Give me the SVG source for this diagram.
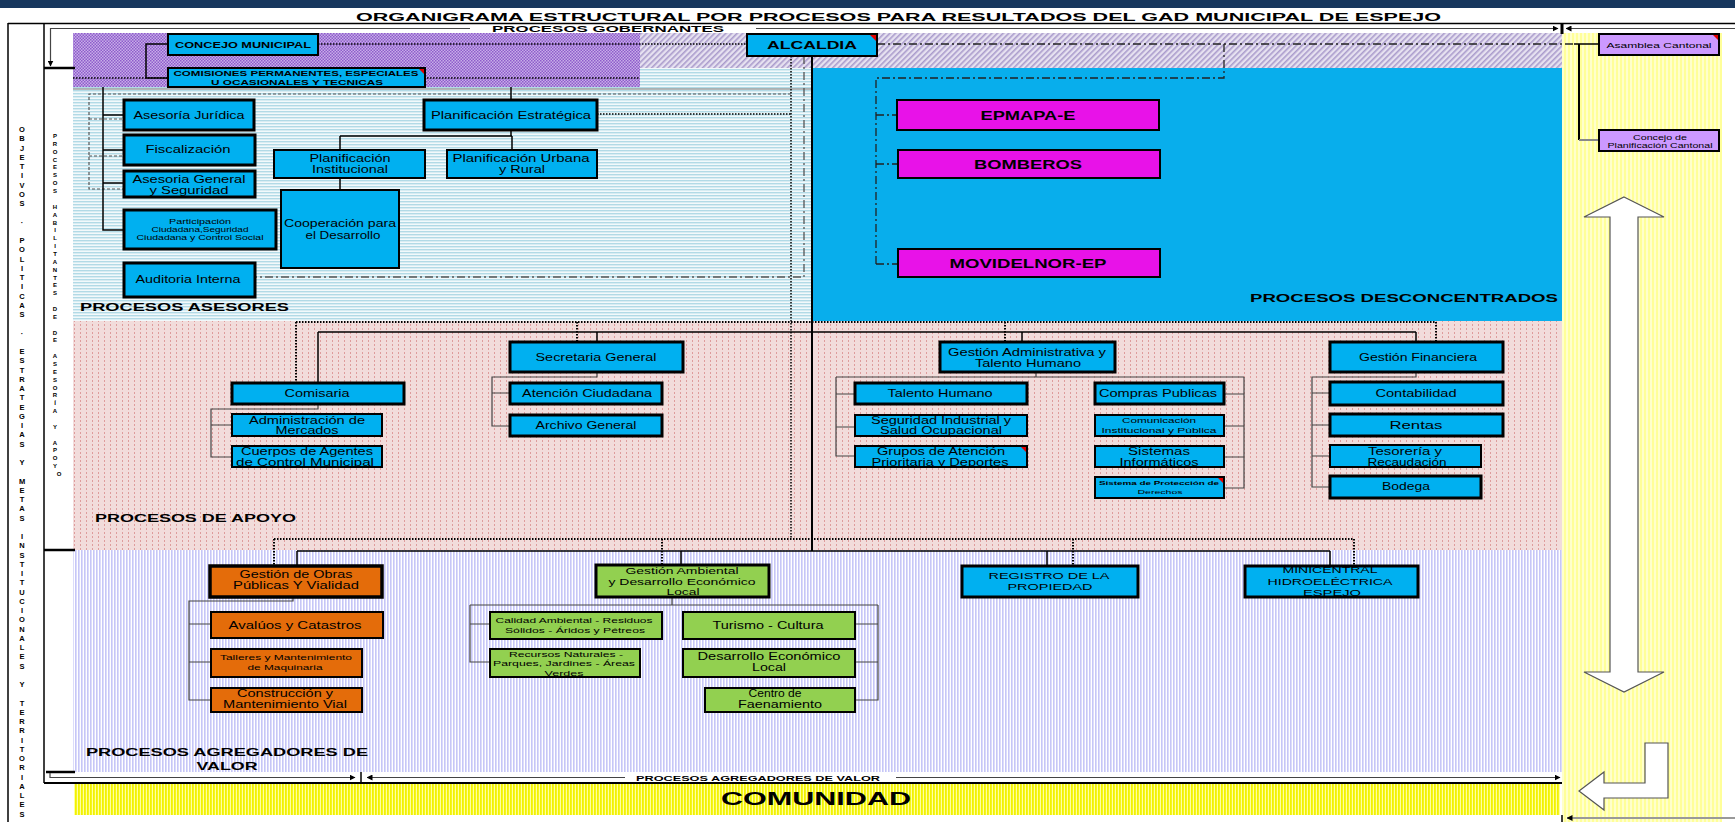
<svg xmlns="http://www.w3.org/2000/svg" width="1735" height="822" viewBox="0 0 1735 822">
<style>
text{font-family:"Liberation Sans",Arial,sans-serif;fill:#000}
.c{text-anchor:middle}
.b{font-weight:bold}
.bx{fill:#00B0F0;stroke:#000;stroke-width:2}
.bt{fill:#00B0F0;stroke:#000;stroke-width:3}
.mg{fill:#E812E8;stroke:#000;stroke-width:2}
.or{fill:#E46C0A;stroke:#000;stroke-width:2}
.ot{fill:#E46C0A;stroke:#000;stroke-width:3.5}
.gr{fill:#92D050;stroke:#000;stroke-width:2}
.gt{fill:#92D050;stroke:#000;stroke-width:3}
.lv{fill:#CC99FF;stroke:#000;stroke-width:2}
.ln{fill:none;stroke:#000;stroke-width:1.5}
.lg{fill:none;stroke:#444;stroke-width:1.2}
.dt{fill:none;stroke:#000;stroke-width:1.5;stroke-dasharray:1.5 1.5}
.dd{fill:none;stroke:#222;stroke-width:1.3;stroke-dasharray:8 3 2 3}
.ds{fill:none;stroke:#555;stroke-width:1.2;stroke-dasharray:3 2}
.rt{fill:#E00000}
</style>
<defs>
<pattern id="pLav" width="4" height="4" patternUnits="userSpaceOnUse" patternTransform="rotate(45)"><rect width="4" height="4" fill="#E6E1F0"/><rect width="1.6" height="4" fill="#AA9CCC"/></pattern>
<pattern id="pPur" width="3" height="3" patternUnits="userSpaceOnUse"><rect width="3" height="3" fill="#C7AEE8"/><rect width="1.5" height="1.5" fill="#8E5BCB"/><rect x="1.5" y="1.5" width="1.5" height="1.5" fill="#8E5BCB"/></pattern>
<pattern id="pAse" width="4" height="3" patternUnits="userSpaceOnUse"><rect width="4" height="3" fill="#F2F9FB"/><rect width="4" height="1.4" fill="#B2DAE6"/></pattern>
<pattern id="pPink" width="6" height="4" patternUnits="userSpaceOnUse"><rect width="6" height="4" fill="#F2DCDB"/><rect x="2" width="1" height="2" fill="#DE9C9C"/></pattern>
<pattern id="pAgr" width="3" height="4" patternUnits="userSpaceOnUse"><rect width="3" height="4" fill="#FFFFFF"/><rect width="1.6" height="4" fill="#C6C6F7"/></pattern>
<pattern id="pYel" width="3" height="4" patternUnits="userSpaceOnUse"><rect width="3" height="4" fill="#FFFFA0"/><rect width="1.8" height="4" fill="#F2F200"/></pattern>
<pattern id="pYcol" width="4" height="4" patternUnits="userSpaceOnUse"><rect width="4" height="4" fill="#FFFFCC"/><rect width="2" height="4" fill="#FFFF99"/></pattern>
<marker id="ah" markerWidth="6" markerHeight="6" refX="5.5" refY="3" orient="auto" markerUnits="userSpaceOnUse"><path d="M0,0 L6,3 L0,6 Z" fill="#000"/></marker>
</defs>

<g id="backgrounds">
<rect x="0" y="0" width="1735" height="822" fill="#FFFFFF"/>
<rect x="0" y="0" width="1735" height="8" fill="#17375E"/>
<rect x="1562" y="33" width="160" height="789" fill="url(#pYcol)"/>
<rect x="73" y="68" width="739" height="253" fill="url(#pAse)"/>
<rect x="640" y="33" width="922" height="35" fill="url(#pLav)"/>
<rect x="73" y="33" width="567" height="54" fill="url(#pPur)"/>
<rect x="812" y="68" width="750" height="253" fill="#08AEEC"/>
<rect x="73" y="321" width="1489" height="229" fill="url(#pPink)"/>
<rect x="73" y="550" width="1489" height="222" fill="url(#pAgr)"/>
<rect x="74" y="784" width="1486" height="31" fill="url(#pYel)"/>
</g>

<g id="frame">
<line class="ln" x1="8" y1="23.5" x2="1735" y2="23.5"/>
<line class="ln" x1="8" y1="23" x2="8" y2="822"/>
<line class="ln" x1="44" y1="23" x2="44" y2="783"/>
<line class="ln" style="stroke-width:2.5" x1="44" y1="68" x2="75" y2="68"/>
<line class="ln" style="stroke-width:2.5" x1="44" y1="550" x2="75" y2="550"/>
<line class="ln" style="stroke-width:2.5" x1="46" y1="772" x2="75" y2="772"/>
<line class="ln" style="stroke-width:2" x1="44" y1="783" x2="1562" y2="783"/>
<line class="ln" style="stroke-width:3" x1="1562" y1="24" x2="1562" y2="34"/>
<line class="ln" x1="361" y1="772" x2="361" y2="783"/>
<line class="ln" x1="1562" y1="815" x2="1562" y2="822"/>
</g>

<g id="connectors">
<path class="lg" d="M470,28.5 H50.5 V66" marker-end="url(#ah)"/>
<path class="lg" d="M756,28.5 H1558" marker-end="url(#ah)"/>
<path class="lg" d="M1735,28.5 H1566" marker-end="url(#ah)"/>
<path class="lg" d="M50,773 V777.5 H355" marker-end="url(#ah)"/>
<path class="lg" d="M625,777.5 H367" marker-end="url(#ah)"/>
<path class="lg" d="M896,777.5 H1560" marker-end="url(#ah)"/>
<path d="M1735,818 H1567" fill="none" stroke="#999" stroke-width="2" marker-end="url(#ah)"/>

<path class="dt" d="M73,78 H640"/>
<path class="ln" d="M168,44 H146 V78 H168"/>
<path class="dt" d="M318,44 H747"/>
<path class="dd" d="M877,44 H1574"/>
<path class="ln" d="M1574,44 H1599"/>
<path class="ln" style="stroke-width:2" d="M1579,44 V140"/>
<path fill="none" stroke="#888" stroke-width="2" d="M1579,140 H1599"/>
<path class="dd" d="M1224,44 V78 H876 V265"/>
<path class="dd" d="M876,115 H897 M876,164 H898 M876,264 H898"/>

<path fill="none" stroke="#777" stroke-width="1" d="M73,89 H812"/>
<path class="ds" d="M791,94 H89 V189 H124 M89,119 H124 M89,156 H124"/>
<path class="dt" d="M597,114 H791"/>
<path class="ln" d="M103,87 V230 H124 M103,115 H124 M103,150 H124 M103,183 H124"/>
<path class="ln" d="M511,87 V100"/>
<path class="ln" d="M511,130 V136 M340,136 H512 M340,136 V150 M512,136 V150 M340,178 V190"/>
<path fill="none" stroke="#555" stroke-width="1.3" stroke-dasharray="8 3 2 3" d="M804,56 V277 H256"/>
<path class="ln" style="stroke-width:2" d="M812,56 V551"/>
<path class="dt" d="M791,56 V539"/>

<path class="dt" style="stroke-width:2" d="M296,322 H1436 M296,322 V383 M577,322 V342 M1005,322 V342 M1436,322 V342"/>
<path class="ln" d="M318,332 H1416 M318,332 V383 M597,332 V342 M1022,332 V342 M1416,332 V342"/>
<path class="lg" d="M318,404 V409 H211 V457 H232 M211,425 H232"/>
<path class="lg" d="M597,372 V377 H492 V426 H510 M492,393 H510"/>
<path class="lg" d="M1036,372 V377 M836,377 H1244 M836,377 V456 H855 M836,394 H855 M836,427 H855 M1244,377 V488 H1224 M1244,394 H1224 M1244,426 H1224 M1244,457 H1224"/>
<path class="lg" d="M1416,372 V377 H1312 V487 H1330 M1312,393 H1330 M1312,425 H1330 M1312,456 H1330"/>

<path class="dt" style="stroke-width:2" d="M274,539 H1354 M274,539 V566 M662,539 V565 M1073,539 V566 M1354,539 V566"/>
<path class="ln" d="M297,551 H1330 M297,551 V566 M681,551 V565 M1047,551 V566 M1330,551 V566"/>
<path class="lg" d="M293,597 V601 H189 V700 H211 M189,624 H211 M189,662 H211"/>
<path class="lg" d="M672,597 V605 M470,605 H878 M470,605 V662 H490 M470,624 H490 M878,605 V700 H855 M878,624 H855 M878,662 H855"/>
</g>

<g id="arrows">
<path d="M1624,197 L1664,217 L1638,217 L1638,672 L1664,672 L1624,692 L1584,672 L1610,672 L1610,217 L1584,217 Z" fill="#FFFFFF" stroke="#555" stroke-width="1.2"/>
<path d="M1645,743 H1668 V798 H1604 V810 L1579,791 L1604,772 V783 H1645 Z" fill="#FFFFFF" stroke="#555" stroke-width="1.2"/>
</g>

<g id="labels">
<text class="b" x="356" y="21" font-size="11.5" textLength="1085" lengthAdjust="spacingAndGlyphs">ORGANIGRAMA ESTRUCTURAL POR PROCESOS PARA RESULTADOS DEL GAD MUNICIPAL DE ESPEJO</text>
<text class="b" x="492" y="32" font-size="8.5" textLength="232" lengthAdjust="spacingAndGlyphs">PROCESOS GOBERNANTES</text>
<text class="b" x="80" y="311" font-size="11" textLength="209" lengthAdjust="spacingAndGlyphs">PROCESOS ASESORES</text>
<text class="b" x="1250" y="302" font-size="11.5" textLength="308" lengthAdjust="spacingAndGlyphs">PROCESOS DESCONCENTRADOS</text>
<text class="b" x="95" y="522" font-size="11.5" textLength="201" lengthAdjust="spacingAndGlyphs">PROCESOS DE APOYO</text>
<text class="b" x="86" y="756" font-size="11" textLength="282" lengthAdjust="spacingAndGlyphs">PROCESOS AGREGADORES DE</text>
<text class="b c" x="227" y="770" font-size="11" textLength="61" lengthAdjust="spacingAndGlyphs">VALOR</text>
<text class="b" x="636" y="781" font-size="7" textLength="244" lengthAdjust="spacingAndGlyphs">PROCESOS AGREGADORES DE VALOR</text>
<text class="b c" x="816" y="805" font-size="18" textLength="190" lengthAdjust="spacingAndGlyphs">COMUNIDAD</text>
<text class="b c" font-size="7.5" x="22 22 22 22 22 22 22 22 22 22 22 22 22 22 22 22 22 22 22 22 22 22 22 22 22 22 22 22 22 22 22 22 22 22 22 22 22 22 22 22 22 22 22 22 22 22 22 22 22 22 22 22 22 22 22 22 22 22 22 22 22 22 22 22 22 22 22 22" y="132 141.25 150.5 159.75 169 178.25 187.5 196.75 206 224.5 243 252.25 261.5 270.75 280 289.25 298.5 307.75 317 335.5 354 363.25 372.5 381.75 391 400.25 409.5 418.75 428 437.25 446.5 465 483.5 492.75 502 511.25 520.5 539 548.25 557.5 566.75 576 585.25 594.5 603.75 613 622.25 631.5 640.75 650 659.25 668.5 687 705.5 714.75 724 733.25 742.5 751.75 761 770.25 779.5 788.75 798 807.25 816.5">OBJETIVOS·POLITICAS·ESTRATEGIASYMETASINSTITUCIONALESYTERRITORIALES</text>
<text class="b c" font-size="6" x="55 55 55 55 55 55 55 55 55 55 55 55 55 55 55 55 55 55 55 55 55 55 55 55 55 55 55 55 55 55 55 55 55 55 55 55 55" y="138 145.9 153.7 161.6 169.4 177.3 185.2 193 208.7 216.6 224.5 232.3 240.2 248 255.9 263.8 271.6 279.5 287.3 295.2 310.9 318.8 334.5 342.4 358.1 366 373.8 381.7 389.5 397.4 405.3 413.1 428.8 444.5 452.4 460.2 468.1 476">PROCESOSHABILITANTESDEDEASESORÍAYAPOYO</text>
</g>

<g id="n-concejo"><rect class="bx" x="168" y="34" width="150" height="21"/><text class="b c" x="243" y="47.8" font-size="9.5" textLength="136" lengthAdjust="spacingAndGlyphs">CONCEJO MUNICIPAL</text></g>
<g id="n-comisiones"><rect class="bx" x="168" y="68" width="257" height="19"/><polygon class="rt" points="419,69 424,69 424,74"/><text class="b c" x="296" y="75.5" font-size="7.5" textLength="245" lengthAdjust="spacingAndGlyphs">COMISIONES PERMANENTES, ESPECIALES</text><text class="b c" x="297" y="85" font-size="7.5" textLength="172" lengthAdjust="spacingAndGlyphs">U OCASIONALES Y TECNICAS</text></g>
<g id="n-alcaldia"><rect class="bx" x="747" y="34" width="130" height="22"/><polygon class="rt" points="870,35 876,35 876,41"/><text class="b c" x="812" y="48.5" font-size="11.5" textLength="90" lengthAdjust="spacingAndGlyphs">ALCALDIA</text></g>
<g id="n-asamblea"><rect class="lv" x="1599" y="34" width="120" height="21"/><polygon class="rt" points="1713,35 1718,35 1718,40"/><text class="c" x="1659" y="47.5" font-size="8" textLength="105" lengthAdjust="spacingAndGlyphs">Asamblea Cantonal</text></g>
<g id="n-concejo-planif"><rect class="lv" x="1599" y="130" width="120" height="21"/><text class="c" x="1660" y="139.5" font-size="6.5" textLength="54" lengthAdjust="spacingAndGlyphs">Concejo de</text><text class="c" x="1660" y="147.5" font-size="6.5" textLength="105" lengthAdjust="spacingAndGlyphs">Planificación Cantonal</text></g>
<g id="n-epmapa"><rect class="mg" x="897" y="100" width="262" height="30"/><text class="b c" x="1028" y="120" font-size="13" textLength="95" lengthAdjust="spacingAndGlyphs">EPMAPA-E</text></g>
<g id="n-bomberos"><rect class="mg" x="898" y="150" width="262" height="28"/><text class="b c" x="1028" y="169" font-size="13" textLength="108" lengthAdjust="spacingAndGlyphs">BOMBEROS</text></g>
<g id="n-movidelnor"><rect class="mg" x="898" y="249" width="262" height="28"/><text class="b c" x="1028" y="268" font-size="13" textLength="157" lengthAdjust="spacingAndGlyphs">MOVIDELNOR-EP</text></g>

<g id="n-juridica"><rect class="bt" x="124" y="100" width="130" height="30"/><text class="c" x="189" y="119" font-size="11" textLength="111" lengthAdjust="spacingAndGlyphs">Asesoría Jurídica</text></g>
<g id="n-plan-estr"><rect class="bt" x="424" y="100" width="173" height="30"/><text class="c" x="511" y="119" font-size="11" textLength="160" lengthAdjust="spacingAndGlyphs">Planificación Estratégica</text></g>
<g id="n-fiscal"><rect class="bt" x="124" y="135" width="131" height="30"/><text class="c" x="188" y="153" font-size="11" textLength="85" lengthAdjust="spacingAndGlyphs">Fiscalización</text></g>
<g id="n-ases-gen"><rect class="bt" x="124" y="171" width="131" height="26"/><text class="c" x="189" y="182.7" font-size="11" textLength="113" lengthAdjust="spacingAndGlyphs">Asesoria General</text><text class="c" x="189" y="193.5" font-size="11" textLength="79" lengthAdjust="spacingAndGlyphs">y Seguridad</text></g>
<g id="n-particip"><rect class="bt" x="124" y="210" width="152" height="39"/><text class="c" x="200" y="224" font-size="6.5" textLength="62" lengthAdjust="spacingAndGlyphs">Participación</text><text class="c" x="200" y="232" font-size="6.5" textLength="97" lengthAdjust="spacingAndGlyphs">Ciudadana,Seguridad</text><text class="c" x="200" y="239.5" font-size="6.5" textLength="127" lengthAdjust="spacingAndGlyphs">Ciudadana y Control Social</text></g>
<g id="n-plan-inst"><rect class="bx" x="274" y="150" width="151" height="28"/><text class="c" x="350" y="162" font-size="10.5" textLength="81" lengthAdjust="spacingAndGlyphs">Planificación</text><text class="c" x="350" y="173" font-size="10.5" textLength="76" lengthAdjust="spacingAndGlyphs">Institucional</text></g>
<g id="n-plan-urb"><rect class="bx" x="447" y="150" width="150" height="28"/><text class="c" x="521" y="162" font-size="10.5" textLength="137" lengthAdjust="spacingAndGlyphs">Planificación  Urbana</text><text class="c" x="522" y="173" font-size="10.5" textLength="46" lengthAdjust="spacingAndGlyphs">y Rural</text></g>
<g id="n-coop"><rect class="bx" x="281" y="190" width="118" height="78"/><text class="c" x="340" y="227" font-size="10" textLength="112" lengthAdjust="spacingAndGlyphs">Cooperación para</text><text class="c" x="343" y="239" font-size="10" textLength="75" lengthAdjust="spacingAndGlyphs">el Desarrollo</text></g>
<g id="n-auditoria"><rect class="bt" x="124" y="263" width="131" height="34"/><text class="c" x="188" y="283" font-size="11" textLength="105" lengthAdjust="spacingAndGlyphs">Auditoria Interna</text></g>

<g id="n-secretaria"><rect class="bt" x="510" y="342" width="173" height="30"/><text class="c" x="596" y="361" font-size="10.5" textLength="121" lengthAdjust="spacingAndGlyphs">Secretaria General</text></g>
<g id="n-comisaria"><rect class="bt" x="232" y="383" width="172" height="21"/><text class="c" x="317" y="397" font-size="10.5" textLength="65" lengthAdjust="spacingAndGlyphs">Comisaria</text></g>
<g id="n-mercados"><rect class="bx" x="232" y="414" width="150" height="22"/><text class="c" x="307" y="423.5" font-size="10" textLength="116" lengthAdjust="spacingAndGlyphs">Administración de</text><text class="c" x="307" y="434" font-size="10" textLength="63" lengthAdjust="spacingAndGlyphs">Mercados</text></g>
<g id="n-cuerpos"><rect class="bx" x="232" y="446" width="150" height="21"/><text class="c" x="307" y="455" font-size="10" textLength="132" lengthAdjust="spacingAndGlyphs">Cuerpos de Agentes</text><text class="c" x="305" y="466" font-size="10" textLength="138" lengthAdjust="spacingAndGlyphs">de Control Municipal</text></g>
<g id="n-atencion"><rect class="bt" x="510" y="383" width="152" height="21"/><text class="c" x="587" y="397" font-size="10.5" textLength="130" lengthAdjust="spacingAndGlyphs">Atención Ciudadana</text></g>
<g id="n-archivo"><rect class="bt" x="510" y="415" width="152" height="21"/><text class="c" x="586" y="429" font-size="10.5" textLength="101" lengthAdjust="spacingAndGlyphs">Archivo General</text></g>
<g id="n-gath"><rect class="bt" x="940" y="342" width="175" height="30"/><text class="c" x="1027" y="355.7" font-size="10.5" textLength="158" lengthAdjust="spacingAndGlyphs">Gestión Administrativa y</text><text class="c" x="1028" y="366.7" font-size="10.5" textLength="106" lengthAdjust="spacingAndGlyphs">Talento Humano</text></g>
<g id="n-talento"><rect class="bt" x="855" y="383" width="172" height="21"/><text class="c" x="940" y="397" font-size="10.5" textLength="105" lengthAdjust="spacingAndGlyphs">Talento Humano</text></g>
<g id="n-seguridad"><rect class="bx" x="855" y="415" width="172" height="21"/><text class="c" x="941" y="423.5" font-size="10" textLength="140" lengthAdjust="spacingAndGlyphs">Seguridad Industrial y</text><text class="c" x="941" y="434" font-size="10" textLength="122" lengthAdjust="spacingAndGlyphs">Salud Ocupacional</text></g>
<g id="n-grupos"><rect class="bx" x="855" y="446" width="172" height="21"/><polygon class="rt" points="1021,447 1026,447 1026,452"/><text class="c" x="941" y="455" font-size="10" textLength="128" lengthAdjust="spacingAndGlyphs">Grupos de Atención</text><text class="c" x="940" y="466" font-size="10" textLength="137" lengthAdjust="spacingAndGlyphs">Prioritaria y Deportes</text></g>
<g id="n-compras"><rect class="bt" x="1095" y="383" width="129" height="21"/><text class="c" x="1158" y="397" font-size="10.5" textLength="118" lengthAdjust="spacingAndGlyphs">Compras Publicas</text></g>
<g id="n-comunicacion"><rect class="bx" x="1095" y="415" width="129" height="21"/><text class="c" x="1159" y="423" font-size="7.5" textLength="74" lengthAdjust="spacingAndGlyphs">Comunicación</text><text class="c" x="1159" y="432.5" font-size="7.5" textLength="115" lengthAdjust="spacingAndGlyphs">Institucional y Pública</text></g>
<g id="n-sistemas"><rect class="bx" x="1095" y="446" width="129" height="21"/><text class="c" x="1159" y="455" font-size="10" textLength="62" lengthAdjust="spacingAndGlyphs">Sistemas</text><text class="c" x="1159" y="466" font-size="10" textLength="79" lengthAdjust="spacingAndGlyphs">Informáticos</text></g>
<g id="n-proteccion"><rect class="bx" x="1095" y="477" width="129" height="21"/><polygon class="rt" points="1218,478 1223,478 1223,483"/><text class="b c" x="1159" y="485" font-size="6" textLength="120" lengthAdjust="spacingAndGlyphs">Sistema de Protección de</text><text class="c" x="1160" y="493.5" font-size="6" textLength="45" lengthAdjust="spacingAndGlyphs">Derechos</text></g>
<g id="n-financiera"><rect class="bt" x="1330" y="342" width="173" height="30"/><text class="c" x="1418" y="361" font-size="10.5" textLength="118" lengthAdjust="spacingAndGlyphs">Gestión Financiera</text></g>
<g id="n-contabilidad"><rect class="bt" x="1330" y="382" width="173" height="23"/><text class="c" x="1416" y="397" font-size="10.5" textLength="81" lengthAdjust="spacingAndGlyphs">Contabilidad</text></g>
<g id="n-rentas"><rect class="bt" x="1330" y="414" width="173" height="22"/><text class="c" x="1416" y="429" font-size="10.5" textLength="53" lengthAdjust="spacingAndGlyphs">Rentas</text></g>
<g id="n-tesoreria"><rect class="bx" x="1330" y="445" width="151" height="22"/><text class="c" x="1405" y="455" font-size="10" textLength="74" lengthAdjust="spacingAndGlyphs">Tesorería y</text><text class="c" x="1407" y="466" font-size="10" textLength="79" lengthAdjust="spacingAndGlyphs">Recaudación</text></g>
<g id="n-bodega"><rect class="bt" x="1330" y="476" width="151" height="22"/><text class="c" x="1406" y="490" font-size="10.5" textLength="48" lengthAdjust="spacingAndGlyphs">Bodega</text></g>

<g id="n-obras"><rect class="ot" x="210" y="566" width="172" height="31"/><text class="c" x="296" y="578" font-size="10.5" textLength="113" lengthAdjust="spacingAndGlyphs">Gestión de Obras</text><text class="c" x="296" y="589" font-size="10.5" textLength="126" lengthAdjust="spacingAndGlyphs">Públicas Y Vialidad</text></g>
<g id="n-avaluos"><rect class="or" x="211" y="612" width="172" height="26"/><text class="c" x="295" y="628.5" font-size="10.5" textLength="133" lengthAdjust="spacingAndGlyphs">Avalúos  y Catastros</text></g>
<g id="n-talleres"><rect class="or" x="211" y="649" width="151" height="28"/><text class="c" x="286" y="660" font-size="8" textLength="132" lengthAdjust="spacingAndGlyphs">Talleres y Mantenimiento</text><text class="c" x="285" y="670" font-size="8" textLength="75" lengthAdjust="spacingAndGlyphs">de Maquinaria</text></g>
<g id="n-construccion"><rect class="or" x="211" y="688" width="151" height="24"/><text class="c" x="285" y="697" font-size="10" textLength="96" lengthAdjust="spacingAndGlyphs">Construcción y</text><text class="c" x="285" y="708" font-size="10" textLength="124" lengthAdjust="spacingAndGlyphs">Mantenimiento Vial</text></g>
<g id="n-ambiental"><rect class="gt" x="596" y="565" width="173" height="32"/><text class="c" x="682" y="574" font-size="9.5" textLength="113" lengthAdjust="spacingAndGlyphs">Gestión Ambiental</text><text class="c" x="682" y="584.5" font-size="9.5" textLength="147" lengthAdjust="spacingAndGlyphs">y Desarrollo Económico</text><text class="c" x="683" y="595" font-size="9.5" textLength="33" lengthAdjust="spacingAndGlyphs">Local</text></g>
<g id="n-calidad"><rect class="gr" x="490" y="612" width="172" height="27"/><text class="c" x="574" y="623" font-size="8" textLength="157" lengthAdjust="spacingAndGlyphs">Calidad Ambiental - Residuos</text><text class="c" x="575" y="633" font-size="8" textLength="140" lengthAdjust="spacingAndGlyphs">Sólidos - Áridos y Pétreos</text></g>
<g id="n-recursos"><rect class="gr" x="490" y="649" width="150" height="28"/><text class="c" x="566" y="657" font-size="8" textLength="114" lengthAdjust="spacingAndGlyphs">Recursos Naturales -</text><text class="c" x="564" y="666" font-size="8" textLength="142" lengthAdjust="spacingAndGlyphs">Parques, Jardines - Áreas</text><text class="c" x="564" y="676" font-size="8" textLength="39" lengthAdjust="spacingAndGlyphs">Verdes</text></g>
<g id="n-turismo"><rect class="gr" x="683" y="612" width="172" height="27"/><text class="c" x="768" y="628.5" font-size="10.5" textLength="111" lengthAdjust="spacingAndGlyphs">Turismo - Cultura</text></g>
<g id="n-desarrollo"><rect class="gr" x="683" y="649" width="172" height="28"/><text class="c" x="769" y="660" font-size="10.5" textLength="143" lengthAdjust="spacingAndGlyphs">Desarrollo Económico</text><text class="c" x="769" y="671" font-size="10.5" textLength="34" lengthAdjust="spacingAndGlyphs">Local</text></g>
<g id="n-faenamiento"><rect class="gr" x="705" y="688" width="150" height="24"/><text class="c" x="775" y="697" font-size="10" textLength="53" lengthAdjust="spacingAndGlyphs">Centro de</text><text class="c" x="780" y="708" font-size="10" textLength="84" lengthAdjust="spacingAndGlyphs">Faenamiento</text></g>
<g id="n-registro"><rect class="bt" x="962" y="566" width="176" height="31"/><text class="c" x="1049" y="578.5" font-size="9.5" textLength="121" lengthAdjust="spacingAndGlyphs">REGISTRO DE LA</text><text class="c" x="1050" y="589.5" font-size="9.5" textLength="85" lengthAdjust="spacingAndGlyphs">PROPIEDAD</text></g>
<g id="n-minicentral"><rect class="bt" x="1245" y="566" width="173" height="31"/><text class="c" x="1330" y="573" font-size="9.5" textLength="95" lengthAdjust="spacingAndGlyphs">MINICENTRAL</text><text class="c" x="1330" y="584.5" font-size="9.5" textLength="125" lengthAdjust="spacingAndGlyphs">HIDROELÉCTRICA</text><text class="c" x="1332" y="595.5" font-size="9.5" textLength="58" lengthAdjust="spacingAndGlyphs">ESPEJO</text></g>
</svg>
